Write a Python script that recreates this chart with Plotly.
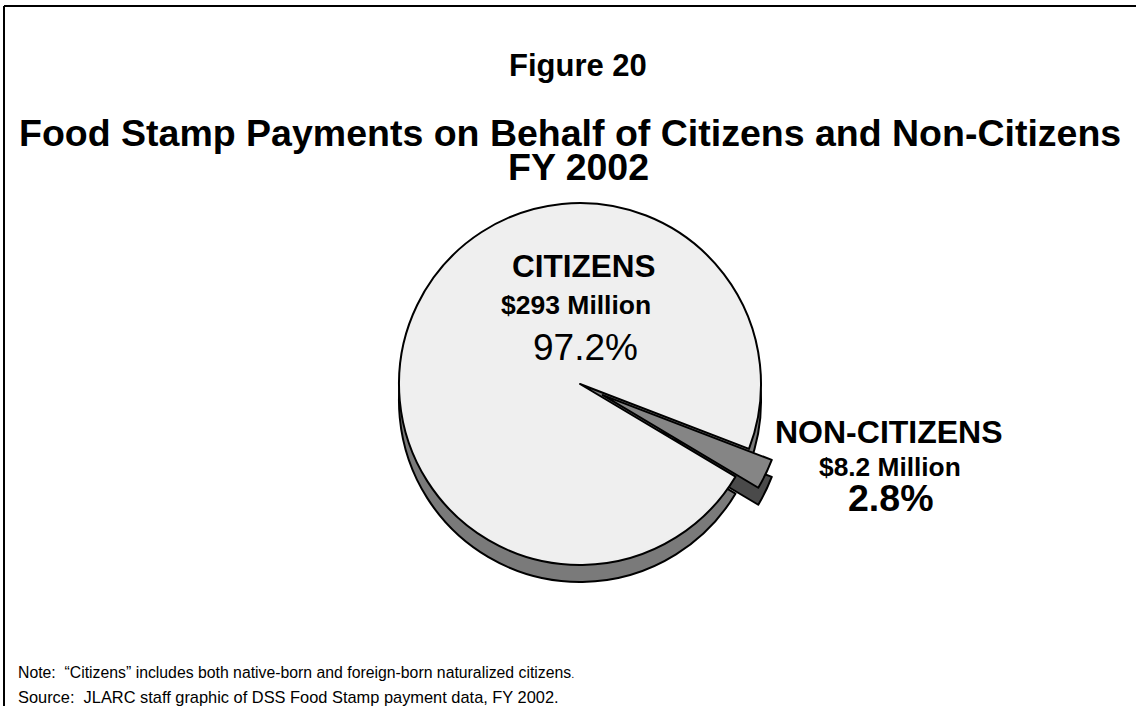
import plotly.graph_objects as go

# data
groups = ["CITIZENS", "NON-CITIZENS"]
payments_millions = [293, 8.2]
amount_labels = ["$293 Million", "$8.2 Million"]
share_labels = ["97.2%", "2.8%"]

W, H = 1136, 706
FONT = "Arial, Liberation Sans, sans-serif"

# non-citizen wedge starts ~21 deg below 3 o'clock, citizens follow it clockwise
small_share = payments_millions[1] / sum(payments_millions)
start_angle = 111 + 360 * small_share
pulls = [0, 0.14]


def px(x):
    return x / W


def py(y):
    return 1 - y / H


# pie box: centre (580, 384), radius ~181, box grows with the pull
cx, cy = 580, 384
half = 181 * (1 + max(pulls))
depth = 17

fig = go.Figure()

# side of the disc (shadow copy pushed down)
fig.add_trace(go.Pie(
    labels=groups,
    values=payments_millions,
    sort=False,
    direction="clockwise",
    rotation=start_angle,
    pull=pulls,
    textinfo="none",
    hoverinfo="skip",
    marker=dict(colors=["#7a7a7a", "#4a4a4a"], line=dict(color="black", width=2)),
    domain=dict(x=[px(cx - half), px(cx + half)],
                y=[py(cy + half + depth), py(cy - half + depth)]),
))

# top face
fig.add_trace(go.Pie(
    labels=groups,
    values=payments_millions,
    sort=False,
    direction="clockwise",
    rotation=start_angle,
    pull=pulls,
    textinfo="none",
    hoverinfo="label+value",
    marker=dict(colors=["#efefef", "#858585"], line=dict(color="black", width=2)),
    domain=dict(x=[px(cx - half), px(cx + half)],
                y=[py(cy + half), py(cy - half)]),
))

annotations = [
    dict(text="<b>Figure 20</b>", x=px(578), y=py(66), size=31),
    dict(text="<b>Food Stamp Payments on Behalf of Citizens and Non-Citizens</b>", x=px(570), y=py(133), size=37.5),
    dict(text="<b>FY 2002</b>", x=px(578), y=py(167), size=37.5),
    dict(text="<b>" + groups[0] + "</b>", x=px(584), y=py(266), size=31.5),
    dict(text="<b>" + amount_labels[0] + "</b>", x=px(576), y=py(305), size=26.5),
    dict(text=share_labels[0], x=px(585), y=py(347), size=37),
    dict(text="<b>" + groups[1] + "</b>", x=px(889), y=py(432), size=32),
    dict(text="<b>" + amount_labels[1] + "</b>", x=px(890), y=py(467), size=26.3),
    dict(text="<b>" + share_labels[1] + "</b>", x=px(890), y=py(498), size=37.5),
]

layout_annotations = []
for a in annotations:
    layout_annotations.append(dict(
        text=a["text"], x=a["x"], y=a["y"], xref="paper", yref="paper",
        xanchor="center", yanchor="middle", showarrow=False,
        font=dict(family=FONT, size=a["size"], color="black"),
    ))

# footnotes
layout_annotations.append(dict(
    text="Note:\u00a0 \u201cCitizens\u201d includes both native-born and foreign-born naturalized citizens<span style='font-size:11px'>.</span>",
    x=px(16), y=py(672), xref="paper", yref="paper", xanchor="left", yanchor="middle",
    showarrow=False, font=dict(family=FONT, size=15.8, color="black"),
))
layout_annotations.append(dict(
    text="Source:\u00a0 JLARC staff graphic of DSS Food Stamp payment data, FY 2002.",
    x=px(16), y=py(697), xref="paper", yref="paper", xanchor="left", yanchor="middle",
    showarrow=False, font=dict(family=FONT, size=16.4, color="black"),
))

fig.update_layout(
    width=W,
    height=H,
    margin=dict(l=0, r=0, t=0, b=0),
    paper_bgcolor="white",
    plot_bgcolor="white",
    showlegend=False,
    annotations=layout_annotations,
    shapes=[
        dict(type="line", xref="paper", yref="paper", x0=px(4), y0=0, x1=px(4), y1=py(6),
             line=dict(color="black", width=2)),
        dict(type="line", xref="paper", yref="paper", x0=px(4), y0=py(6), x1=1, y1=py(6),
             line=dict(color="black", width=2)),
    ],
)

# page body has an 8px default margin; drop it so the figure sits at the window corner
fig.write_html(
    "out.html",
    config={"displayModeBar": False},
    post_script="document.body.style.margin='0';document.body.style.overflow='hidden';",
)
